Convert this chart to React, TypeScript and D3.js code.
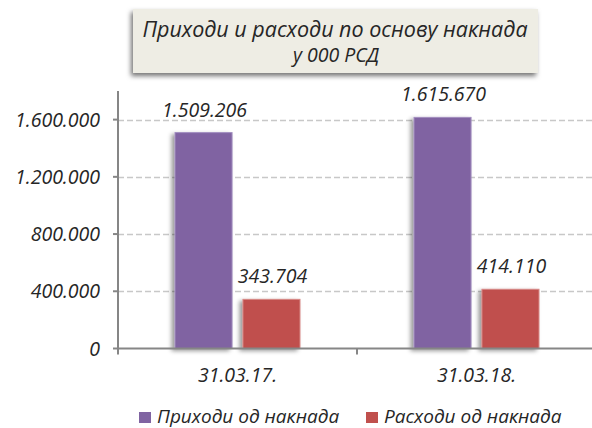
import React from 'react';
import * as d3 from 'd3';

const width = 592;
const height = 428;
const margin = { top: 91, right: -4, bottom: 80, left: 118 };

const categories = ['31.03.17.', '31.03.18.'];
const seriesNames = ['Приходи од накнада', 'Расходи од накнада'];
const income = [1509206, 1615670];
const expenses = [343704, 414110];
const yTicks = [0, 400000, 800000, 1200000, 1600000];
const colors = ['#8064a2', '#c0504d'];
const strokes = ['#a38fbf', '#d88a88'];

const font = "'Open Sans', 'DejaVu Sans', sans-serif";
const textColor = '#262626';
const labelSize = 19.5;

// 1.600.000 style
const fmt = (v: number) => d3.format(',')(v).replace(/,/g, '.');

const x0 = d3
  .scaleBand<string>()
  .domain(categories)
  .range([margin.left, width - margin.right]);
const x1 = d3.scaleBand<number>().domain([0, 1]).range([57, 182]).paddingInner(0.16);
const y = d3.scaleLinear().domain([0, 1800000]).range([height - margin.bottom + 0.5, margin.top]);

export default function App() {
  const series = [income, expenses];
  const y0 = y(0);
  return (
    <svg width={width} height={height} style={{ position: 'absolute', left: 0, top: 0 }}>
      <defs>
        <filter id="barShadow" x="-30%" y="-10%" width="160%" height="130%">
          <feDropShadow dx={-3} dy={2} stdDeviation={2} floodColor="#000" floodOpacity={0.4} />
        </filter>
        <filter id="boxShadow" x="-10%" y="-20%" width="120%" height="150%">
          <feDropShadow dx={-2} dy={3} stdDeviation={2.5} floodColor="#000" floodOpacity={0.55} />
        </filter>
      </defs>

      {/* title box */}
      <rect x={133} y={9} width={405} height={64} fill="#eeede4" filter="url(#boxShadow)" />
      <text x={335} y={37} textAnchor="middle" fontFamily={font} fontStyle="italic" fontSize={21.5} fill={textColor}>
        Приходи и расходи по основу накнада
      </text>
      <text x={336} y={62} textAnchor="middle" fontFamily={font} fontStyle="italic" fontSize={19.5} fill={textColor}>
        у 000 РСД
      </text>

      {/* grid */}
      {yTicks.slice(1).map(t => (
        <line
          key={t}
          x1={margin.left}
          x2={width}
          y1={Math.round(y(t)) + 0.5}
          y2={Math.round(y(t)) + 0.5}
          stroke="#c8c8c8"
          strokeWidth={1.3}
          strokeDasharray="6,3"
        />
      ))}

      {/* bars */}
      {categories.map((c, i) => (
        <g key={c}>
          {series.map((s, j) => {
            const bx = (x0(c) as number) + (x1(j) as number);
            const by = y(s[i]);
            return (
              <g key={j}>
                <rect
                  x={bx}
                  y={by}
                  width={x1.bandwidth()}
                  height={y0 - by}
                  fill={colors[j]}
                  stroke={strokes[j]}
                  strokeWidth={1}
                  filter="url(#barShadow)"
                />
                <text
                  x={bx + x1.bandwidth() / 2 + 1}
                  y={by - 16}
                  textAnchor="middle"
                  fontFamily={font}
                  fontStyle="italic"
                  fontSize={labelSize}
                  fill={textColor}
                >
                  {fmt(s[i])}
                </text>
              </g>
            );
          })}
        </g>
      ))}

      {/* y axis */}
      <line x1={margin.left} x2={margin.left} y1={margin.top} y2={y0 + 5} stroke="#868686" strokeWidth={2} />
      {yTicks.map(t => (
        <g key={t}>
          <line x1={margin.left - 5} x2={margin.left} y1={y(t)} y2={y(t)} stroke="#868686" strokeWidth={2} />
          <text
            x={100}
            y={y(t) + 7}
            textAnchor="end"
            fontFamily={font}
            fontStyle="italic"
            fontSize={labelSize}
            fill={textColor}
          >
            {fmt(t)}
          </text>
        </g>
      ))}

      {/* x axis */}
      <line x1={margin.left} x2={width} y1={y0} y2={y0} stroke="#868686" strokeWidth={2} />
      {[...categories.map(c => x0(c) as number), width - margin.right].map((tx, i) => (
        <line key={i} x1={tx} x2={tx} y1={y0} y2={y0 + 6} stroke="#868686" strokeWidth={2} />
      ))}
      {categories.map(c => (
        <text
          key={c}
          x={(x0(c) as number) + x0.bandwidth() / 2}
          y={382}
          textAnchor="middle"
          fontFamily={font}
          fontStyle="italic"
          fontSize={labelSize}
          fill={textColor}
        >
          {c}
        </text>
      ))}

      {/* legend */}
      {seriesNames.map((n, j) => {
        const lx = j === 0 ? 139 : 366;
        return (
          <g key={n}>
            <rect x={lx} y={412} width={12} height={11} fill={colors[j]} />
            <text x={lx + 18} y={422.5} fontFamily={font} fontStyle="italic" fontSize={19} fill={textColor}>
              {n}
            </text>
          </g>
        );
      })}
    </svg>
  );
}
